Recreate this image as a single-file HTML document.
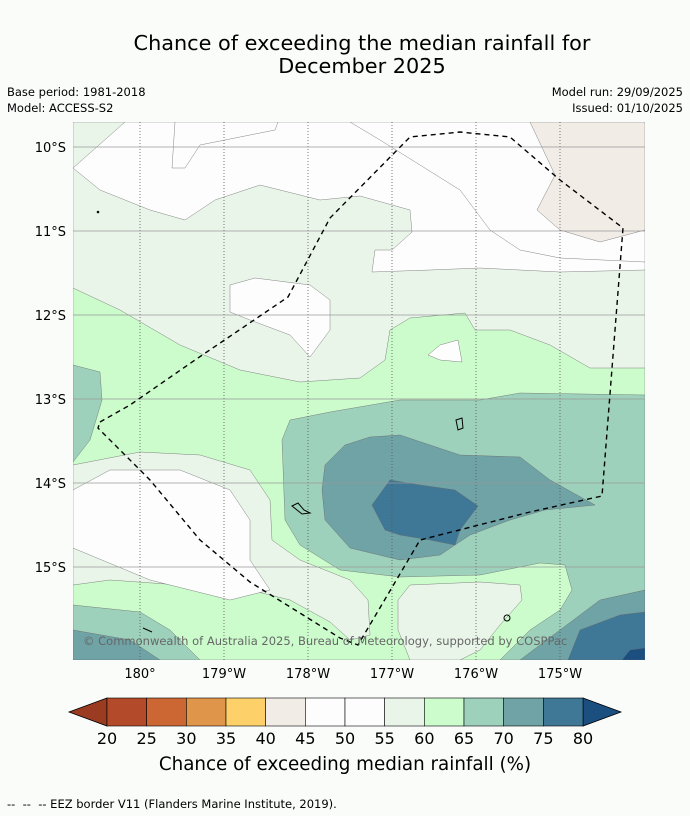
<!DOCTYPE html>
<html><head><meta charset="utf-8">
<style>
body{margin:0;background:#fafcfa;font-family:"Liberation Sans","DejaVu Sans",sans-serif;}
#wrap{position:relative;width:690px;height:816px;overflow:hidden;}
svg text{font-family:"DejaVu Sans","Liberation Sans",sans-serif;}
</style></head>
<body>
<div id="wrap">
<svg id="svg" width="690" height="816" xmlns="http://www.w3.org/2000/svg">
<text x="362" y="50" font-size="20.8" text-anchor="middle" fill="#000">Chance of exceeding the median rainfall for</text>
<text x="362" y="73" font-size="20.8" text-anchor="middle" fill="#000">December 2025</text>
<text x="7" y="96" font-size="11.5">Base period: 1981-2018</text>
<text x="7" y="112" font-size="11.5">Model: ACCESS-S2</text>
<text x="683" y="96" font-size="11.5" text-anchor="end">Model run: 29/09/2025</text>
<text x="683" y="112" font-size="11.5" text-anchor="end">Issued: 01/10/2025</text>
<defs><clipPath id="mc"><rect x="73" y="122" width="572" height="538"/></clipPath></defs>
<g clip-path="url(#mc)" stroke="#666" stroke-width="0.4">
<rect x="73" y="122" width="572" height="538" fill="#eaf5ea"/>
<polygon fill="#fdfdfd" points="73,168 100,190 150,210 185,220 215,200 260,185 320,200 360,196 410,210 412,232 392,250 375,250 372,272 430,270 480,268 560,272 645,270 645,122 125,122 73,122"/>
<polygon fill="#eaf5ea" points="73,122 125,122 73,168"/>
<polyline fill="none" points="175,122 172,168 185,168 200,145 275,130 278,122"/>
<polyline fill="none" points="350,122 380,140 420,165 460,190 490,230 520,250 560,258 645,262"/>
<polygon fill="#f2ece7" points="530,122 645,122 645,230 600,242 560,230 537,210 555,175"/>
<polygon fill="#ccfccc" points="73,288 120,310 180,345 240,370 300,382 360,378 385,360 390,330 410,318 465,313 475,330 510,330 550,345 590,368 645,368 645,660 73,660"/>
<polygon fill="#fdfdfd" points="230,285 255,278 310,285 330,300 330,330 310,357 290,335 250,320 230,312"/>
<polygon fill="#fdfdfd" points="428,355 440,345 458,340 462,362 440,360"/>
<polygon fill="#9ed1bc" points="73,365 100,372 102,400 90,440 73,462"/>
<polygon fill="#eaf5ea" points="73,465 140,452 200,455 250,470 270,500 272,540 300,560 350,580 368,600 370,635 350,640 330,622 290,600 250,590 180,585 110,580 73,585"/>
<polygon fill="#fdfdfd" points="73,490 110,470 180,470 230,490 250,520 250,560 270,590 230,600 150,580 73,548"/>
<polygon fill="#9ed1bc" points="73,605 140,612 170,630 200,660 73,660"/>
<polygon fill="#6fa3a6" points="73,630 130,640 160,660 73,660"/>
<polygon fill="#9ed1bc" points="290,420 330,412 400,400 480,400 520,393 645,395 645,660 500,660 530,630 560,610 572,590 565,565 540,563 480,575 400,577 340,570 300,545 285,520 282,440"/>
<polygon fill="#eaf5ea" points="398,600 410,585 480,582 520,585 522,600 500,625 480,650 460,660 410,660 398,630"/>
<polygon fill="#6fa3a6" points="325,465 345,445 370,437 400,435 460,455 520,457 550,480 595,505 545,510 510,520 470,535 440,555 400,560 350,548 325,520 322,490"/>
<polygon fill="#6fa3a6" points="520,660 560,630 600,600 645,590 645,660"/>
<polygon fill="#3f7797" points="372,505 390,480 420,485 455,490 478,506 460,530 455,545 430,540 400,535 385,530"/>
<polygon fill="#3f7797" points="568,660 580,630 620,615 645,612 645,660"/>
<polygon fill="#1a4f80" points="622,660 630,650 645,648 645,660"/>
<g id="grid" stroke-width="0.8"></g>
<g fill="none" stroke="#000" stroke-width="1">
<path d="M456,420 L462,418 L463,428 L458,430 Z"/>
<path d="M292,506 L298,503 L304,510 L310,513 L302,514 Z"/>
<circle cx="507" cy="618" r="3"/>
<path d="M143,628 L152,632"/>
<circle cx="98" cy="212" r="0.8"/>
</g>
<polyline fill="none" stroke="#000" stroke-width="1.4" stroke-dasharray="5,4" points="100,422 130,405 195,360 288,297 330,218 410,137 460,132 510,137 560,180 623,228 602,496 530,512 420,540 358,645 340,638 250,582 200,540 150,480 98,428 100,422"/>
<text x="83" y="645" font-size="11.5" fill="#666" stroke="none">© Commonwealth of Australia 2025, Bureau of Meteorology, supported by COSPPac</text>
</g>
<g id="axes"></g>
<g id="cbar"></g>
<text x="345" y="770" font-size="18.3" text-anchor="middle">Chance of exceeding median rainfall (%)</text>
<text x="7" y="808" font-size="11.5" xml:space="preserve" style="white-space:pre">--  --  -- EEZ border V11 (Flanders Marine Institute, 2019).</text>
</svg>
</div>
<script>
const lonTicks=[180,-179,-178,-177,-176,-175];
const lonLabels=["180°","179°W","178°W","177°W","176°W","175°W"];
const latTicks=[-10,-11,-12,-13,-14,-15];
const latLabels=["10°S","11°S","12°S","13°S","14°S","15°S"];
const levels=[20,25,30,35,40,45,50,55,60,65,70,75,80];
const colors=["#b34a2a","#cc6633","#e0964a","#fdd06a","#f2ece7","#fdfdfd","#fdfdfd","#eaf5ea","#ccfccc","#9ed1bc","#6fa3a6","#3f7797"];
const NS="http://www.w3.org/2000/svg";
function xLon(l){const d=l>0?l-180:l+180;return 140+d*84;}
function yLat(l){return 147+(-10-l)*84;}
function mk(t,a,p){const e=document.createElementNS(NS,t);for(const k in a)e.setAttribute(k,a[k]);p.appendChild(e);return e;}
const grid=document.getElementById('grid'),axes=document.getElementById('axes');
lonTicks.forEach((l,i)=>{const x=xLon(l);
const g=mk('line',{x1:x,x2:x,y1:122,y2:660,stroke:'#555','stroke-dasharray':'1,2'},grid);


const t=mk('text',{x:x,y:678,'font-size':13,'text-anchor':'middle'},axes);t.textContent=lonLabels[i];

});
latTicks.forEach((l,i)=>{const y=yLat(l);
const g=mk('line',{x1:73,x2:645,y1:y,y2:y,stroke:'#999'},grid);


const t=mk('text',{x:66,y:y+5,'font-size':13,'text-anchor':'end'},axes);t.textContent=latLabels[i];

});
const cb=document.getElementById('cbar');
const x0=107,x1=583,w=(x1-x0)/colors.length;
const lt=mk('polygon',{points:`${x0},698 69,712 ${x0},726`,fill:'#9a3b22',stroke:'#000','stroke-width':0.8},cb);


const rt=mk('polygon',{points:`${x1},698 621,712 ${x1},726`,fill:'#1a4f80',stroke:'#000','stroke-width':0.8},cb);


colors.forEach((c,i)=>{const r=mk('rect',{x:x0+i*w,y:698,width:w,height:28,fill:c,stroke:'#000','stroke-width':0.6},cb);

});
levels.forEach((v,i)=>{const t=mk('text',{x:x0+i*w,y:744,'font-size':16,'text-anchor':'middle'},cb);t.textContent=v;

});
</script>
</body></html>
